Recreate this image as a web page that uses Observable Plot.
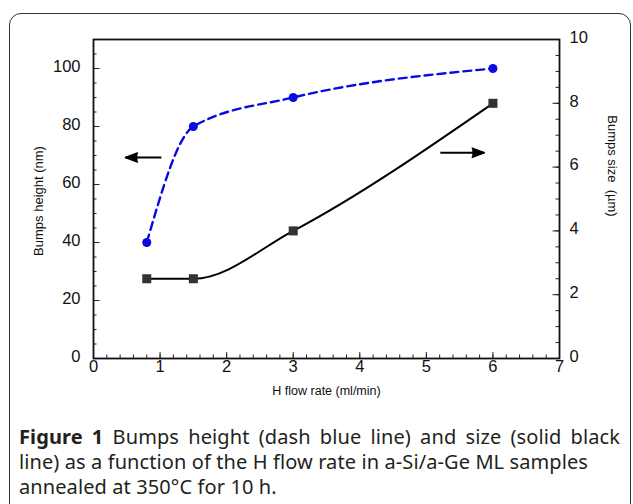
<!DOCTYPE html>
<html><head><meta charset="utf-8">
<script src="https://cdn.jsdelivr.net/npm/d3@7"></script>
<script src="https://cdn.jsdelivr.net/npm/@observablehq/plot@0.6"></script>
<style>
body{margin:0;width:633px;height:504px;overflow:hidden;background:#fff;position:relative;font-family:"Liberation Sans",Arial,sans-serif}
#card{position:absolute;left:9px;top:13px;width:620px;height:560px;border:1.4px solid #333;border-radius:12px;}
#chart{position:absolute;left:0;top:0}
#caption{position:absolute;left:19px;top:424px;width:601px;font-family:"Noto Sans",sans-serif;font-size:20px;letter-spacing:0.1px;line-height:25px;color:#231f20}
#caption .l1{text-align:justify;text-align-last:justify}
#caption div{white-space:nowrap}
</style></head><body>
<div id="card"></div><div id="chart"></div>
<div id="caption"><div class="l1"><b>Figure 1</b> Bumps height (dash blue line) and size (solid black</div><div>line) as a function of the H flow rate in a-Si/a-Ge ML samples</div><div>annealed at 350°C for 10 h.</div></div>
<script>
// data
const flowRate = [0.8, 1.5, 3, 6];
const bumpsHeight = [40, 80, 90, 100];   // nm, left axis
const bumpsSize = [2.5, 2.5, 4.0, 8.0];  // µm, right axis
const xTicks = [0, 1, 2, 3, 4, 5, 6, 7];
const leftTicks = [0, 20, 40, 60, 80, 100];
const rightTicks = [0, 2, 4, 6, 8, 10];
const xMinor = d3.range(0, 7.001, 0.2);
const leftMinor = d3.range(0, 110.01, 5);
const rightMinor = d3.range(0, 10.01, 0.5);
const arrowLeft = {x1: 1.02, x2: 0.48, value: 69.3, axis: "left"};
const arrowRight = {x1: 5.21, x2: 5.87, value: 6.45, axis: "right"};

const k = 110 / 10; // right axis value -> left axis units
const data = flowRate.map((x, i) => ({x, height: bumpsHeight[i], size: bumpsSize[i]}));
const arrows = [arrowLeft, arrowRight];
const arrowY = d => d.axis === "left" ? d.value : d.value * k;
const blue = "#0a0ae0";
const W = 633, H = 415, mt = 39, ml = 93, mr = 74, mb = 57;
const pw = W - ml - mr, ph = H - mt - mb;
const tickFont = 16.5, titleFont = 13;

const chart = Plot.plot({
  width: W, height: H,
  marginTop: mt, marginLeft: ml, marginRight: mr, marginBottom: mb,
  style: {fontFamily: "Liberation Sans, Arial, sans-serif", fontSize: "15px", color: "#111"},
  x: {domain: [0, 7], axis: null},
  y: {domain: [0, 110], axis: null},
  marks: [
    Plot.tickX(xMinor, {x: d => d, insetTop: ph - 3.5, stroke: "#222"}),
    Plot.tickX(xTicks, {x: d => d, insetTop: ph - 6, stroke: "#222"}),
    Plot.tickY(leftMinor, {y: d => d, insetRight: pw - 3.5, stroke: "#222"}),
    Plot.tickY(leftTicks, {y: d => d, insetRight: pw - 6.5, stroke: "#222"}),
    Plot.tickY(rightMinor, {y: d => d * k, insetLeft: pw - 3.5, stroke: "#222"}),
    Plot.tickY(rightTicks, {y: d => d * k, insetLeft: pw - 6.5, stroke: "#222"}),
    Plot.text(xTicks, {x: d => d, text: d => String(d), frameAnchor: "bottom", lineAnchor: "top", dy: 2, fontSize: tickFont, fill: "#111"}),
    Plot.text(leftTicks, {y: d => d, text: d => String(d), frameAnchor: "left", textAnchor: "end", dx: -13, dy: -2, fontSize: tickFont, fill: "#111"}),
    Plot.text(rightTicks, {y: d => d * k, text: d => String(d), frameAnchor: "right", textAnchor: "start", dx: 10, dy: -2, fontSize: tickFont, fill: "#111"}),
    Plot.frame({stroke: "#111", strokeWidth: 1.8}),
    Plot.text(["Bumps height (nm)"], {frameAnchor: "left", textAnchor: "middle", dx: -55, dy: 2, rotate: -90, fontSize: titleFont, fill: "#111"}),
    Plot.text(["Bumps size\u00a0 (µm)"], {frameAnchor: "right", textAnchor: "middle", dx: 53, dy: -33, rotate: 90, fontSize: titleFont, fill: "#111"}),
    Plot.text(["H flow rate (ml/min)"], {frameAnchor: "bottom", textAnchor: "middle", dy: 36, fontSize: 12.5, fill: "#111"}),
    Plot.line(data, {x: "x", y: "height", curve: "monotone-x", stroke: blue, strokeWidth: 2.4, strokeDasharray: "8,5"}),
    Plot.dot(data, {x: "x", y: "height", r: 4.5, fill: blue}),
    Plot.line(data, {x: "x", y: d => d.size * k, curve: "monotone-x", stroke: "#000", strokeWidth: 2}),
    Plot.dot(data, {x: "x", y: d => d.size * k, symbol: "square", r: 5.1, fill: "#333"}),
    Plot.link(arrows, {x1: "x1", x2: "x2", y1: arrowY, y2: arrowY, stroke: "#000", strokeWidth: 2}),
    Plot.vector(arrows, {x: "x2", y: arrowY, rotate: d => d.x2 < d.x1 ? 270 : 90, length: 12, anchor: "end", shape: "spike", r: 4.5, fill: "#000", stroke: "#000"})
  ]
});
document.getElementById("chart").append(chart);
</script>
</body></html>
